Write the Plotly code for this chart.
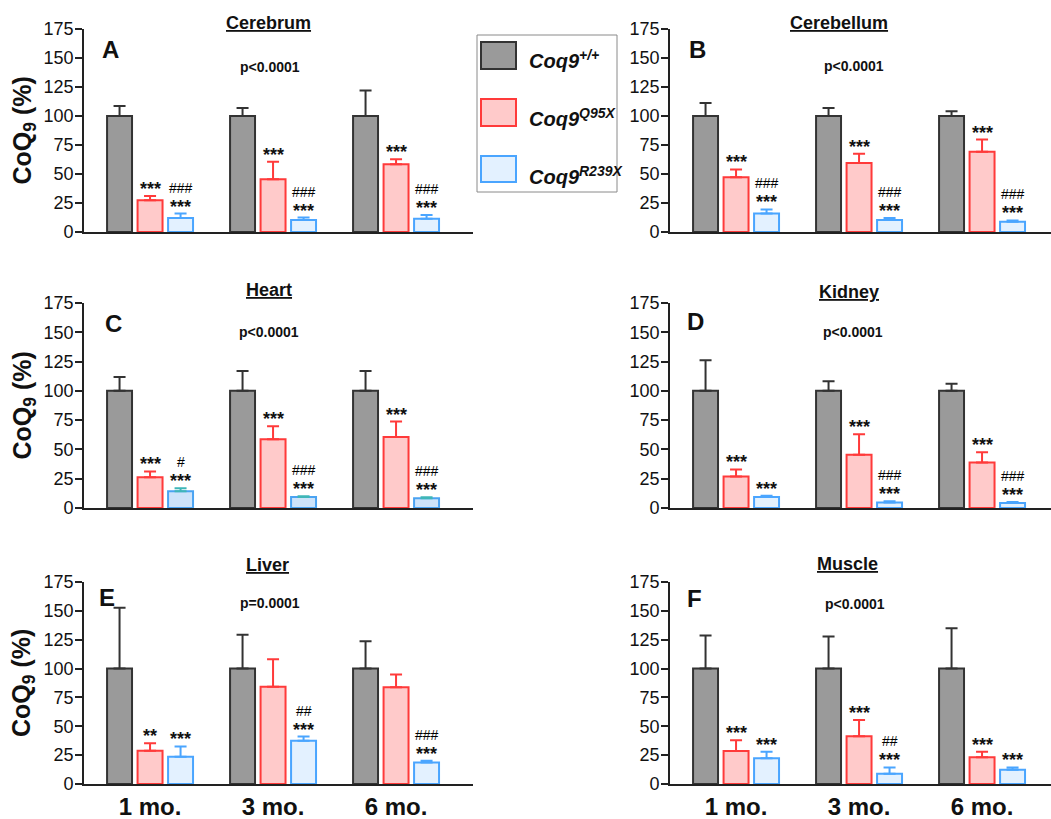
import plotly.graph_objects as go

W, H = 1051, 819
FONT = "Liberation Sans, Arial, sans-serif"


def px(x):
    return x / W


def py(y):
    return 1 - y / H


months = ["1 mo.", "3 mo.", "6 mo."]
genotypes = ["Coq9<sup>+/+</sup>", "Coq9<sup>Q95X</sup>", "Coq9<sup>R239X</sup>"]

# CoQ9 levels (% of wild type) and SEM, per tissue
cerebrum_wt = [100, 100, 100]
cerebrum_wt_err = [8.7, 7.0, 22.0]
cerebrum_q95 = [27.4, 45.5, 58.5]
cerebrum_q95_err = [3.6, 15.0, 4.3]
cerebrum_r239 = [12.1, 10.4, 11.5]
cerebrum_r239_err = [3.8, 2.0, 3.2]

cerebellum_wt = [100, 100, 100]
cerebellum_wt_err = [11.3, 7.0, 4.0]
cerebellum_q95 = [47.3, 59.4, 69.1]
cerebellum_q95_err = [6.6, 8.0, 10.6]
cerebellum_r239 = [16.0, 10.3, 8.9]
cerebellum_r239_err = [3.5, 1.7, 1.1]

heart_wt = [100, 100, 100]
heart_wt_err = [11.8, 17.0, 17.0]
heart_q95 = [26.3, 58.6, 60.6]
heart_q95_err = [4.9, 11.2, 13.2]
heart_r239 = [14.3, 9.4, 8.3]
heart_r239_err = [2.6, 0.6, 0.9]

kidney_wt = [100, 100, 100]
kidney_wt_err = [26.2, 8.3, 6.0]
kidney_q95 = [26.9, 45.4, 38.9]
kidney_q95_err = [6.0, 17.6, 8.7]
kidney_r239 = [9.4, 4.8, 4.3]
kidney_r239_err = [1.1, 0.9, 0.8]

liver_wt = [100, 100, 100]
liver_wt_err = [52.6, 29.3, 23.6]
liver_q95 = [28.7, 84.2, 83.9]
liver_q95_err = [6.6, 23.8, 10.9]
liver_r239 = [23.6, 37.4, 18.7]
liver_r239_err = [8.9, 3.7, 1.4]

muscle_wt = [100, 100, 100]
muscle_wt_err = [28.6, 27.7, 34.9]
muscle_q95 = [28.6, 41.4, 23.1]
muscle_q95_err = [9.4, 14.0, 4.9]
muscle_r239 = [22.3, 8.9, 12.3]
muscle_r239_err = [5.7, 5.4, 2.0]

# significance marks: * vs wild type, # Q95X vs R239X
cerebrum_q95_sig = ["***", "***", "***"]
cerebrum_r239_sig = ["***", "***", "***"]
cerebrum_r239_hash = ["###", "###", "###"]
cerebellum_q95_sig = ["***", "***", "***"]
cerebellum_r239_sig = ["***", "***", "***"]
cerebellum_r239_hash = ["###", "###", "###"]
heart_q95_sig = ["***", "***", "***"]
heart_r239_sig = ["***", "***", "***"]
heart_r239_hash = ["#", "###", "###"]
kidney_q95_sig = ["***", "***", "***"]
kidney_r239_sig = ["***", "***", "***"]
kidney_r239_hash = ["", "###", "###"]
liver_q95_sig = ["**", "", ""]
liver_r239_sig = ["***", "***", "***"]
liver_r239_hash = ["", "##", "###"]
muscle_q95_sig = ["***", "***", "***"]
muscle_r239_sig = ["***", "***", "***"]
muscle_r239_hash = ["", "##", ""]

panels = [
    dict(letter="A", title="Cerebrum", p="p<0.0001",
         wt=cerebrum_wt, wt_err=cerebrum_wt_err, q95=cerebrum_q95, q95_err=cerebrum_q95_err,
         r239=cerebrum_r239, r239_err=cerebrum_r239_err,
         q95_sig=cerebrum_q95_sig, r239_sig=cerebrum_r239_sig, r239_hash=cerebrum_r239_hash),
    dict(letter="B", title="Cerebellum", p="p<0.0001",
         wt=cerebellum_wt, wt_err=cerebellum_wt_err, q95=cerebellum_q95, q95_err=cerebellum_q95_err,
         r239=cerebellum_r239, r239_err=cerebellum_r239_err,
         q95_sig=cerebellum_q95_sig, r239_sig=cerebellum_r239_sig, r239_hash=cerebellum_r239_hash),
    dict(letter="C", title="Heart", p="p<0.0001",
         wt=heart_wt, wt_err=heart_wt_err, q95=heart_q95, q95_err=heart_q95_err,
         r239=heart_r239, r239_err=heart_r239_err,
         q95_sig=heart_q95_sig, r239_sig=heart_r239_sig, r239_hash=heart_r239_hash),
    dict(letter="D", title="Kidney", p="p<0.0001",
         wt=kidney_wt, wt_err=kidney_wt_err, q95=kidney_q95, q95_err=kidney_q95_err,
         r239=kidney_r239, r239_err=kidney_r239_err,
         q95_sig=kidney_q95_sig, r239_sig=kidney_r239_sig, r239_hash=kidney_r239_hash),
    dict(letter="E", title="Liver", p="p=0.0001",
         wt=liver_wt, wt_err=liver_wt_err, q95=liver_q95, q95_err=liver_q95_err,
         r239=liver_r239, r239_err=liver_r239_err,
         q95_sig=liver_q95_sig, r239_sig=liver_r239_sig, r239_hash=liver_r239_hash),
    dict(letter="F", title="Muscle", p="p<0.0001",
         wt=muscle_wt, wt_err=muscle_wt_err, q95=muscle_q95, q95_err=muscle_q95_err,
         r239=muscle_r239, r239_err=muscle_r239_err,
         q95_sig=muscle_q95_sig, r239_sig=muscle_r239_sig, r239_hash=muscle_r239_hash),
]

# layout geometry (pixels)
col_x = [(84, 473), (670, 1051)]
row_y = [(29, 232), (303, 508), (582, 784)]
unit_px = 123.0          # pixels per month group
left_pad = 0.537         # axis start, in group units, left of first group
bar_w = 0.203
bar_step = 0.248

letter_pos = [(110, 49), (697, 49), (113, 324), (695, 322), (107, 597), (694, 598)]
title_pos = [(268, 23), (839, 23), (269, 290), (849, 292), (267, 565), (847, 564)]
p_pos = [(270, 67), (854, 66), (269, 332), (853, 332), (270, 603), (855, 604)]

GRAY = dict(fill="#9a9a9a", line="#333333", err="#333333")
RED = dict(fill="#ffcaca", line="#ff3a3a", err="#ff3a3a")
BLUE = dict(fill="#e3f1ff", line="#4aa5ff", err="#4aa5ff")
BLUE_HEART = dict(fill="#cde3fa", line="#4aa3f2", err="#3fb6b8")

fig = go.Figure()
annotations = []
xs = [0, 1, 2]

for i, pnl in enumerate(panels):
    r, c = divmod(i, 2)
    n = i + 1
    xa = "x" if n == 1 else f"x{n}"
    ya = "y" if n == 1 else f"y{n}"
    blue = BLUE_HEART if pnl["title"] == "Heart" else BLUE
    series = [
        (pnl["wt"], pnl["wt_err"], GRAY, -bar_step),
        (pnl["q95"], pnl["q95_err"], RED, 0.0),
        (pnl["r239"], pnl["r239_err"], blue, bar_step),
    ]
    for (vals, errs, col, shift), name in zip(series, genotypes):
        fig.add_trace(go.Bar(
            x=xs, y=vals, xaxis=xa, yaxis=ya, name=name, showlegend=False,
            width=bar_w, offset=shift - bar_w / 2,
            marker=dict(color=col["fill"], line=dict(color=col["line"], width=2)),
            error_y=dict(type="data", array=errs, arrayminus=[0] * 3, symmetric=False,
                         color=col["err"], thickness=2, width=6),
        ))

    x0, x1 = col_x[c]
    y0, y1 = row_y[r]
    span = (x1 - x0) / unit_px
    bottom = r == 2
    fig.update_layout({
        ("xaxis" if n == 1 else f"xaxis{n}"): dict(
            domain=[px(x0), px(x1)], range=[-left_pad, -left_pad + span], anchor=ya,
            showline=True, linecolor="#222222", linewidth=1.6, ticks="",
            tickvals=xs if bottom else [], ticktext=months if bottom else [],
            showticklabels=bottom,
            tickfont=dict(family=FONT, size=24, color="#111111", weight="bold"),
            ticklabelstandoff=0, showgrid=False, zeroline=False, fixedrange=True,
            automargin=False),
        ("yaxis" if n == 1 else f"yaxis{n}"): dict(
            domain=[py(y1), py(y0)], range=[0, 175], anchor=xa,
            tickvals=list(range(0, 176, 25)), ticks="outside", ticklen=7, tickwidth=1.6,
            tickcolor="#222222", showline=True, linecolor="#222222", linewidth=1.6,
            tickfont=dict(family=FONT, size=18, color="#111111"), ticklabelstandoff=-2,
            showgrid=False, zeroline=False, fixedrange=True, automargin=False),
    })

    # significance marks above error bars
    for k in range(3):
        top_q = pnl["q95"][k] + pnl["q95_err"][k]
        top_r = pnl["r239"][k] + pnl["r239_err"][k]
        if pnl["q95_sig"][k]:
            annotations.append(dict(x=xs[k], y=top_q, xref=xa, yref=ya, text=pnl["q95_sig"][k],
                                    showarrow=False, yanchor="middle", yshift=7,
                                    font=dict(family=FONT, size=18, color="#111111", weight="bold")))
        if pnl["r239_sig"][k]:
            annotations.append(dict(x=xs[k] + bar_step, y=top_r, xref=xa, yref=ya,
                                    text=pnl["r239_sig"][k], showarrow=False, yanchor="middle",
                                    yshift=7,
                                    font=dict(family=FONT, size=18, color="#111111", weight="bold")))
        if pnl["r239_hash"][k]:
            annotations.append(dict(x=xs[k] + bar_step, y=top_r, xref=xa, yref=ya,
                                    text=pnl["r239_hash"][k], showarrow=False, yanchor="middle",
                                    yshift=26, font=dict(family=FONT, size=14, color="#000000")))

    lx, ly = letter_pos[i]
    annotations.append(dict(x=px(lx), y=py(ly), xref="paper", yref="paper", text=f"<b>{pnl['letter']}</b>",
                            showarrow=False, xanchor="center", yanchor="middle",
                            font=dict(family=FONT, size=24, color="#111111")))
    tx, ty = title_pos[i]
    annotations.append(dict(x=px(tx), y=py(ty), xref="paper", yref="paper",
                            text=f"<b><u>{pnl['title']}</u></b>", showarrow=False,
                            xanchor="center", yanchor="middle",
                            font=dict(family=FONT, size=18, color="#111111")))
    qx, qy = p_pos[i]
    annotations.append(dict(x=px(qx), y=py(qy), xref="paper", yref="paper", text=f"<b>{pnl['p']}</b>",
                            showarrow=False, xanchor="center", yanchor="middle",
                            font=dict(family=FONT, size=14, color="#111111")))
    if c == 0:
        annotations.append(dict(x=px(23), y=py((y0 + y1) / 2), xref="paper", yref="paper",
                                text="<b>CoQ<sub>9</sub> (%)</b>", textangle=-90, showarrow=False,
                                xanchor="center", yanchor="middle",
                                font=dict(family=FONT, size=25, color="#111111")))

# legend box with swatches
shapes = [dict(type="rect", xref="paper", yref="paper", x0=px(477), x1=px(617), y0=py(192), y1=py(35),
               line=dict(color="#8a8a8a", width=1), fillcolor="white")]
sw_rows = [(42, 69, GRAY, 60), (99, 126, RED, 118), (156, 182, BLUE, 175)]
for (t, b, col, ty), name in zip(sw_rows, genotypes):
    shapes.append(dict(type="rect", xref="paper", yref="paper", x0=px(481), x1=px(516), y0=py(b), y1=py(t),
                       line=dict(color=col["line"], width=2), fillcolor=col["fill"]))
    annotations.append(dict(x=px(527), y=py(ty), xref="paper", yref="paper",
                            text=f"<b><i>{name}</i></b>", showarrow=False, xanchor="left",
                            yanchor="middle", font=dict(family=FONT, size=20, color="#111111")))

fig.update_layout(
    width=W, height=H, margin=dict(l=0, r=0, t=0, b=0, autoexpand=False),
    paper_bgcolor="white", plot_bgcolor="white",
    barmode="overlay", showlegend=False,
    annotations=annotations, shapes=shapes,
    font=dict(family=FONT),
)

fig.write_html("out.html")
